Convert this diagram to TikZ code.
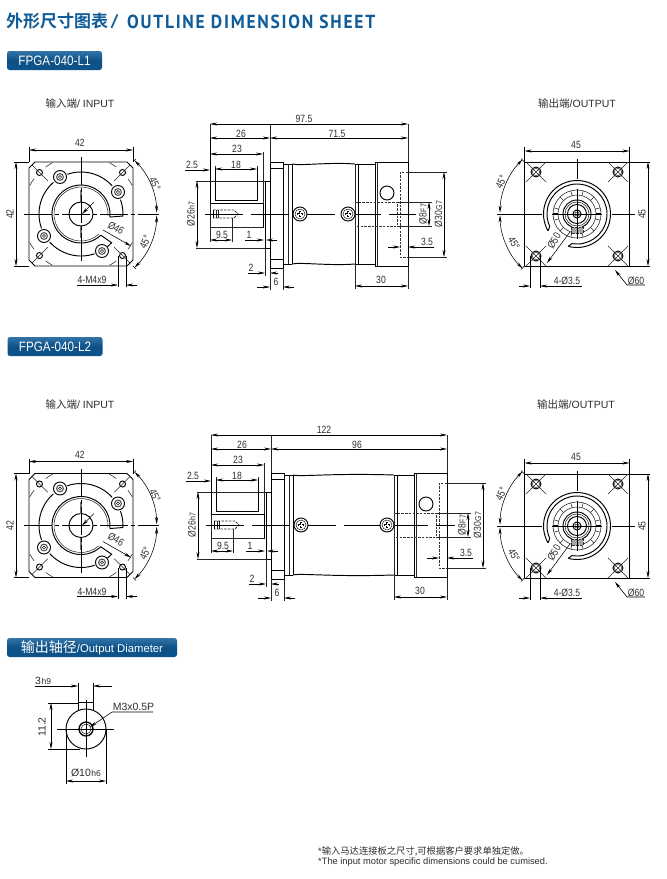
\documentclass[tikz,border=0pt]{standalone}
\usepackage{fontspec}
\usepackage{graphicx}
\usetikzlibrary{arrows.meta}
\setmainfont{Liberation Sans}
\newfontfamily\dimf[FakeStretch=0.82]{Liberation Sans}
\newfontfamily\cjk{Noto Sans CJK SC}
\newfontfamily\cjkb[BoldFont={Noto Sans CJK SC Bold}]{Noto Sans CJK SC}
\newfontfamily\headf[LetterSpace=10]{PT Sans Bold}
\definecolor{ink}{HTML}{2E2E2E}
\definecolor{headblue}{HTML}{0F5C99}
\newcount\tc
\newcommand\T[4][]{\global\advance\tc by 1 \node[dt,#1] (t\the\tc) at (#2,#3) {#4};}
\newcommand\Sm[1]{\kern0.6pt{\fontsize{8.5}{8.5}\selectfont #1}}
\newcommand\Arc[4][]{\draw[#1] ({#2*cos(#3)},{-#2*sin(#3)}) arc[start angle=#3,end angle=#4,radius=#2pt];}
\tikzset{
  >={Stealth[length=7pt,width=3pt]},
  dl/.style={line width=0.55pt,black},
  ol/.style={line width=0.95pt,black},
  tl/.style={line width=0.55pt,black!85},
  hid/.style={line width=0.8pt,black!80,dash pattern=on 2.5pt off 1.2pt},
  cl/.style={line width=0.7pt,black,dash pattern=on 28pt off 3pt on 4pt off 3pt},
  dt/.style={inner sep=0pt,text=ink,font=\dimf\fontsize{10.5}{10.5}\selectfont},
  dm/.style={inner sep=0pt,text=ink,font=\rmfamily\fontsize{10.5}{10.5}\selectfont},
  pill/.style={rectangle,rounded corners=2.5pt,top color=#1!85!white,bottom color=#1!90!black,middle color=#1!88!black,inner sep=0pt,text=white},
}
\newcommand\InputView{%
  \draw[ol] (-46,-52)--(46,-52)--(52,-46)--(52,46)--(46,52)--(-46,52)--(-52,46)--(-52,-46)--cycle;
  \foreach \a in {45,135,225,315}{
    \begin{scope}[rotate=\a]
      \draw[ol] (58.7,0) circle[radius=3pt];
      \draw[tl] (47,0)--(69,0);
      \Arc[tl]{58.7}{8}{16}
      \Arc[tl]{58.7}{-16}{-8}
    \end{scope}}
  \foreach \p/\q in {37/-22,-21/-37,-37/22,21/37}{
    \draw[ol] (\p,\q) circle[radius=6.5pt];
    \draw[line width=1pt,black!70] (\p,\q) circle[radius=3.4pt];
    \draw[line width=0.5pt] (\p,\q) circle[radius=1.6pt];}
  \Arc[ol]{42}{42}{109}
  \Arc[ol]{42}{131}{200}
  \Arc[ol]{42}{222}{289}
  \Arc[ol]{42}{309}{317}
  \Arc[ol]{42}{-3}{20}
  \Arc[ol]{29}{-6}{313}
  \Arc[tl]{27}{-4}{311}
  \draw[ol] ({29*cos(-6)},{-29*sin(-6)})--(42,2);
  \draw[ol] ({29*cos(313)},{-29*sin(313)})--(31,29);
  \draw[ol] (0,0) circle[radius=12pt];
  \draw[line width=1.8pt,black!55] (0,-24)--(0,-12) (0,12)--(0,24);
  \draw[cl] (-57,0)--(78,0);
  \draw[cl] (0,-57)--(0,48);
  \draw[dl,->] (13,-12)--(1,0);
  % angular dims
  \Arc[dl,<->]{75.7}{45}{1}
  \Arc[dl,<->]{75.7}{-1}{-45}
  \draw[dl] (52,-52)--(55,-55) (52,52)--(55,55);
  \T[rotate=-65]{74}{-30}{45°}
  \T[rotate=65]{64}{28}{45°}
  % Ø46
  \draw[dl,->] (22,16)--(50,32);
  \T[rotate=-30]{35}{14}{Ø46}
  % 42 dims
  \draw[dl] (-52,-67)--(-52,-52) (52,-67)--(52,-52);
  \draw[dl,<->] (-52,-64)--(52,-64);
  \T{-1}{-71}{42}
  \draw[dl] (-67,-52)--(-52,-52) (-67,52)--(-52,52);
  \draw[dl,<->] (-65,-52)--(-65,52);
  \T[rotate=90]{-71}{0}{42}
  % 4-M4x9
  \draw[dl] (37,42)--(37,73) (45,42)--(45,73);
  \draw[dl,->] (-4,71)--(37,71);
  \draw[dl,->] (56,71)--(45,71);
  \T{11}{66}{4-M4x9}
}
\newcommand\OutputView{%
  \draw[ol] (-52.5,-52)rectangle(52.5,52);
  \foreach \p/\q in {-41/-42,41/-42,-41/42,41/42}{
    \draw[ol] (\p,\q) circle[radius=5pt];
    \draw[line width=0.4pt] (\p,\q) circle[radius=3.6pt];
    \draw[tl] (\p-10,\q-10)--(\p+10,\q+10) (\p-10,\q+10)--(\p+10,\q-10);}
  \Arc[ol]{33.5}{-105}{210}
  \Arc[ol]{30}{-100}{205}
  \draw[ol] ({33.5*cos(210)},{-33.5*sin(210)})--({30*cos(205)},{-30*sin(205)});
  \draw[ol] ({33.5*cos(-105)},{-33.5*sin(-105)})--({30*cos(-100)},{-30*sin(-100)});
  \draw[tl] (0,0) circle[radius=24pt];
  \draw[tl] (0,0) circle[radius=19pt];
  \foreach \a in {15,45,...,345}{\draw[tl] ({19*cos(\a)},{-19*sin(\a)})--({24*cos(\a)},{-24*sin(\a)});}
  \draw[ol] (0,0) circle[radius=14pt];
  \draw[tl] (0,0) circle[radius=12pt];
  \draw[ol] (0,0) circle[radius=9.5pt];
  \draw[line width=1pt] (0,0) circle[radius=4pt];
  \draw[tl] (0,0) circle[radius=2pt];
  \draw[line width=1.6pt] (-24,0)--(-19,0) (19,0)--(24,0);
  \draw[hid,fill=black!35] (-6,13)rectangle(6,19);
  \draw[line width=0.8pt] (-80,0)--(-35,0) (-25,0)--(25,0) (35,0)--(58,0);
  \draw[line width=0.7pt] (0,-55)--(0,-35) (0,-25)--(0,25);
  % angular
  \Arc[dl,<->]{77}{135}{179}
  \Arc[dl,<->]{77}{181}{225}
  \T[rotate=65]{-76}{-32}{45°}
  \T[rotate=-60]{-63}{29}{45°}
  \draw[dl] (-52.5,-52)--(-56,-55.5) (-52.5,52)--(-56,55.5);
  % Ø50
  \draw[dl,->] (-7,18)--(-30,49);
  \T[rotate=60]{-23}{27}{Ø50}
  % 45 dims
  \draw[dl] (-52.5,-67)--(-52.5,-52) (52.5,-67)--(52.5,-52);
  \draw[dl,<->] (-52.5,-63)--(52.5,-63);
  \T{-1}{-69}{45}
  \draw[dl] (52.5,-52)--(73,-52) (52.5,52)--(73,52);
  \draw[dl,<->] (71,-52)--(71,52);
  \T[rotate=90]{65}{0}{45}
  % 4-Ø3.5
  \draw[dl] (-47,42)--(-47,74) (-37,42)--(-37,74);
  \draw[dl,->] (-58,72)--(-47,72);
  \draw[dl,->] (5,72)--(-37,72);
  \T{-10}{67}{4-Ø3.5}
  % Ø60
  \draw[dl,<-] (38,56)--(50,71)--(68,71);
  \T{59}{67}{Ø60}
}
% side view: #1 dx, #2 dy, #3 stretch, #4 overall, #5 right part
\newcommand\SideView[5]{%
 \begin{scope}[shift={(#1,#2)}]
  \def\R{#3}
  % shaft side
  \draw[ol] (210,138)--(210,203);
  \draw[ol] (215,168)--(215,200)--(257,200)--(257,168);
  \draw[ol] (210,203)--(263,203);
  \draw[tl] (210,203)--(210,242) (210,227)--(263,227);
  \draw[ol] (263,203)--(263,228);
  \draw[tl] (263,152)--(263,203) (210,124)--(210,138);
  \draw[ol] (265,181)rectangle(270,248);
  \draw[tl] (196,181)--(265,181) (196,248)--(265,248);
  \draw[ol] (270,162)rectangle(283,268);
  \draw[ol] (270,168)--(283,168) (270,259)--(283,259);
  \draw[tl] (270,124)--(270,162);
  % body
  \draw[ol] (283,164)--(292,164);
  \draw[ol] (283,264)--(292,264);
  \draw[ol] (292,164) .. controls (300,166) and (330,162) .. (\R+355,164);
  \draw[ol] (292,264) .. controls (300,262) and (330,266) .. (\R+355,264);
  \draw[ol] (292,164)--(292,264);
  \draw[tl] (288,164)--(288,264);
  \draw[ol] (\R+358,164)--(\R+358,264);
  \draw[tl] (\R+355,164)--(\R+355,264);
  \draw[ol] (\R+355,164)--(\R+375,164) (\R+355,264)--(\R+375,264);
  \draw[ol] (\R+375,162)rectangle(\R+408,266);
  \draw[tl] (\R+377,162)--(\R+377,266);
  \draw[ol] (\R+387,193) circle[radius=7pt];
  \draw[tl] (\R+408,124)--(\R+408,162);
  % hidden
  \draw[hid] (\R+355,202)--(\R+397,202)--(\R+397,226)--(\R+355,226)--cycle;
  \draw[hid] (\R+408,172)--(\R+400,172)--(\R+400,257)--(\R+408,257);
  \draw[hid] (213,210)--(234,210)--(238,214)--(234,218)--(213,218);
  \draw[line width=0.9pt] (213,210)--(213,218);
  \draw[tl] (216,210)--(216,218) (218,210)--(218,218);
  % centre line
  \draw[line width=0.7pt,dash pattern=on 38pt off 8pt] (205,214)--(\R+416,214);
  % screws
  \foreach \sx in {300,{\R+348}}{
    \draw[ol,fill=white] (\sx,214) circle[radius=7pt];
    \draw[tl] (\sx,214) circle[radius=5pt];
    \draw[line width=2pt] (\sx-3,214)--(\sx+3,214) (\sx,211)--(\sx,217);
    \draw[line width=0.8pt,white] (\sx-2.4,214)--(\sx+2.4,214) (\sx,211.6)--(\sx,216.4);}
  % dims
  \draw[dl,<->] (210,124)--(\R+408,124);
  \T{\R/2+304}{118.5}{#4}
  \draw[dl,<->] (210,138)--(270,138);
  \draw[dl,<->] (270,138)--(\R+408,138);
  \T{241}{133.5}{26}
  \T{\R/2+337}{133.5}{#5}
  \draw[dl,<->] (210,154)--(263,154);
  \T{237}{149}{23}
  \draw[dl,<->] (215,169)--(257,169);
  \T{236}{164.5}{18}
  \draw[tl] (215,168)--(215,166) (257,168)--(257,166);
  \draw[dl,->] (185,170)--(210,170);
  \T{192}{165}{2.5}
  \draw[dl,<->] (197,181)--(197,248);
  \T[rotate=90]{191}{214}{Ø26\Sm{h7}}
  \draw[dl,<->] (210,240)--(232,240);
  \draw[tl] (232,218)--(232,242);
  \T{222}{234.5}{9.5}
  \draw[dl,->] (245,240)--(264,240);
  \draw[dl,->] (277,240)--(266,240);
  \T{249}{235}{1}
  \draw[tl] (265,248)--(265,276);
  \draw[dl,->] (248,273)--(265,273);
  \draw[dl,->] (278,273)--(270,273);
  \T{251}{268}{2}
  \draw[tl] (270,268)--(270,290) (283,268)--(283,290);
  \draw[dl,->] (257,287)--(270,287);
  \draw[dl,->] (294,287)--(283,287);
  \T{276}{282}{6}
  \draw[tl] (\R+355,226)--(\R+355,289) (\R+408,266)--(\R+408,289);
  \draw[dl,<->] (\R+355,286)--(\R+408,286);
  \T{\R+381}{280}{30}
  \draw[tl] (\R+397,202)--(\R+432,202) (\R+397,226)--(\R+432,226);
  \draw[dl,<->] (\R+429,202)--(\R+429,226);
  \T[rotate=90]{\R+423}{214}{Ø8\Sm{F7}}
  \draw[tl] (\R+408,172)--(\R+447,172) (\R+408,257)--(\R+447,257);
  \draw[dl,<->] (\R+444,172)--(\R+444,257);
  \T[rotate=90]{\R+438.5}{214}{Ø30\Sm{G7}}
  \draw[dl,->] (\R+388,247)--(\R+400,247);
  \draw[dl,->] (\R+434,247)--(\R+408,247);
  \T{\R+427}{241.5}{3.5}
 \end{scope}
}
\begin{document}
\begin{tikzpicture}[x=1pt,y=-1pt]
\useasboundingbox (0,0) rectangle (667,879);
\fill[white] (0,0) rectangle (667,879);
% header
\node[anchor=west,inner sep=0pt,text=headblue] (head1) at (6,21.5) {\cjkb\bfseries\fontsize{17}{17}\selectfont 外形尺寸图表};
\node[anchor=west,inner sep=0pt,text=headblue] (head2) at (111,21.5) {\headf\fontsize{17}{17}\selectfont /};
\node[anchor=west,inner sep=0pt,text=headblue] (head3) at (127,21.5) {\resizebox{248pt}{13.5pt}{\headf OUTLINE DIMENSION SHEET}};
% pills
\node[pill=headblue,minimum width=95pt,minimum height=19pt] (p1) at (54.5,60.5) {\resizebox{72pt}{9.5pt}{FPGA-040-L1}};
\node[pill=headblue,minimum width=95pt,minimum height=19pt] (p2) at (55,346.5) {\resizebox{72pt}{9.5pt}{FPGA-040-L2}};
\node[pill=headblue,minimum width=170pt,minimum height=19pt] (p3) at (92,647.5) {{\cjk\fontsize{14}{14}\selectfont 输出轴径}\resizebox{86pt}{!}{/Output Diameter}};
% captions
\node[inner sep=0pt,text=ink,font=\fontsize{10.5}{10.5}\selectfont] (c1) at (80,103.5) {{\cjk 输入端}/ INPUT};
\node[inner sep=0pt,text=ink,font=\fontsize{10.5}{10.5}\selectfont] (c2) at (80,404) {{\cjk 输入端}/ INPUT};
\node[inner sep=0pt,text=ink,font=\fontsize{10.5}{10.5}\selectfont] (c3) at (577,103.5) {{\cjk 输出端}/OUTPUT};
\node[inner sep=0pt,text=ink,font=\fontsize{10.5}{10.5}\selectfont] (c4) at (576,404) {{\cjk 输出端}/OUTPUT};
% views
\begin{scope}[shift={(81,214)}]\InputView\end{scope}
\begin{scope}[shift={(81,525.5)}]\InputView\end{scope}
\begin{scope}[shift={(577,214)}]\OutputView\end{scope}
\begin{scope}[shift={(577,526)}]\OutputView\end{scope}
\SideView{0}{0}{0}{97.5}{71.5}
\SideView{1}{311}{38}{122}{96}
% output diameter
\begin{scope}
  \draw[ol] (86,729) circle[radius=20pt];
  \draw[ol] (78,711)--(78,702)--(93,702)--(93,711);
  \draw[line width=1.3pt] (86,729) circle[radius=7pt];
  \draw[tl] (86,729) circle[radius=5pt];
  \draw[line width=0.6pt] (57,729)--(114,729) (86,700)--(86,757);
  \draw[dl] (78,683)--(78,702) (93,683)--(93,702);
  \draw[dl,->] (35,686)--(78,686);
  \draw[dl,->] (112,686)--(93,686);
  \T[dm,anchor=west]{35}{680.5}{3\Sm{h9}}
  \draw[dl] (48,703)--(78,703) (48,749)--(80,749);
  \draw[dl,<->] (51,703)--(51,749);
  \T[dm,rotate=90]{42}{727}{11.2}
  \draw[dl] (66,729)--(66,784) (106,729)--(106,784);
  \draw[dl,<->] (66,781)--(106,781);
  \T[dm]{86}{773}{Ø10\Sm{h6}}
  \draw[dl,<-] (90,727)--(112,712)--(153,712);
  \T[dm]{133.5}{707}{M3x0.5P}
\end{scope}
% footer
\node[anchor=west,inner sep=0pt,text=ink,font=\fontsize{9.3}{9.3}\selectfont] (f1) at (318,851) {*{\cjk 输入马达连接板之尺寸,可根据客户要求单独定做。}};
\node[anchor=west,inner sep=0pt,text=ink,font=\fontsize{9.3}{9.3}\selectfont] (f2) at (318,862) {*The input motor specific dimensions could be cumised.};
\end{tikzpicture}
\end{document}
